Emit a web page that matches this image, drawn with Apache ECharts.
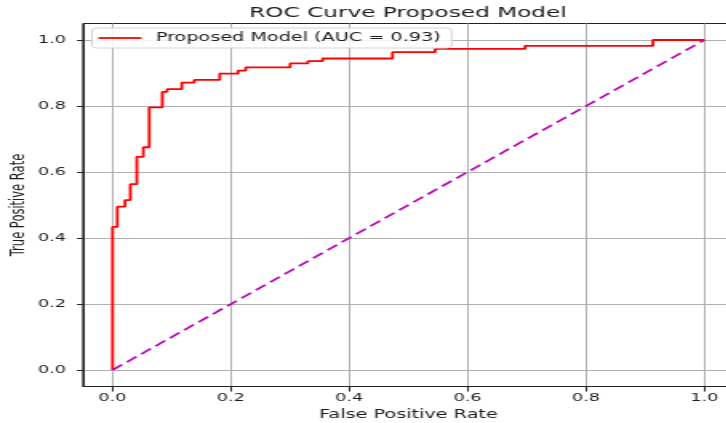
<!DOCTYPE html>
<html>
<head>
<meta charset="utf-8">
<title>ROC Curve Proposed Model</title>
<script src="https://cdn.jsdelivr.net/npm/echarts@6/dist/echarts.min.js"></script>
<style>
  html, body { margin: 0; padding: 0; background: #fff; overflow: hidden; }
  #wrap { width: 726px; height: 423px; overflow: hidden; position: relative; }
  #chart { position: absolute; left: 0; top: 0; height: 423px; transform-origin: 0 0; }
</style>
</head>
<body>
<div id="wrap"><div id="chart"></div></div>
<script>
// ROC curve points (false positive rate / true positive rate)
const fpr = [0, 0, 0.008, 0.008, 0.021, 0.021, 0.030, 0.030, 0.041, 0.041, 0.052, 0.052,
  0.062, 0.062, 0.084, 0.084, 0.092, 0.092, 0.117, 0.117, 0.138, 0.138, 0.181, 0.181,
  0.212, 0.212, 0.225, 0.225, 0.300, 0.300, 0.330, 0.330, 0.355, 0.355, 0.473, 0.473,
  0.545, 0.545, 0.697, 0.697, 0.913, 0.913, 1.0];
const tpr = [0, 0.434, 0.434, 0.495, 0.495, 0.515, 0.515, 0.563, 0.563, 0.646, 0.646, 0.675,
  0.675, 0.796, 0.796, 0.843, 0.843, 0.851, 0.851, 0.871, 0.871, 0.879, 0.879, 0.898,
  0.898, 0.907, 0.907, 0.917, 0.917, 0.929, 0.929, 0.936, 0.936, 0.944, 0.944, 0.963,
  0.963, 0.973, 0.973, 0.982, 0.982, 1.0, 1.0];
// chance line
const chanceX = [0, 1];
const chanceY = [0, 1];
const tickValues = [0, 0.2, 0.4, 0.6, 0.8, 1.0];
const aucValue = 0.93;
const modelName = 'Proposed Model';

// the figure is drawn narrow and widened horizontally
const S = 1.6;
const sx = v => v / S;
const el = document.getElementById('chart');
el.style.width = (726 / S) + 'px';
el.style.transform = 'scaleX(' + S + ')';

const chart = echarts.init(el, null, { renderer: 'canvas' });
const font = 'DejaVu Sans';
const ink = '#1c1c1c';
const legendName = modelName + ' (AUC = ' + aucValue.toFixed(2) + ')';

chart.setOption({
  animation: false,
  backgroundColor: '#fff',
  title: {
    text: 'ROC Curve ' + modelName,
    left: sx(400), top: 1, textAlign: 'center',
    textStyle: { fontFamily: font, fontSize: 14.5, fontWeight: 'normal', color: ink }
  },
  legend: {
    data: [legendName],
    left: sx(92), top: 28,
    padding: [4, sx(11), 4, sx(5)],
    itemWidth: sx(43), itemHeight: 14,
    itemStyle: { opacity: 0 },
    lineStyle: { width: 1.8, color: '#ff0000' },
    backgroundColor: 'rgba(255,255,255,0.85)',
    borderColor: '#d4d4d4', borderWidth: 1, borderRadius: 3,
    textStyle: { fontFamily: font, fontSize: 12, color: ink, padding: [0, 0, 0, 4] }
  },
  grid: {
    left: sx(83), right: sx(-7.6), top: 23.5, bottom: 36.5,
    containLabel: false, outerBoundsMode: 'none',
    show: true, borderColor: '#222', borderWidth: 1, backgroundColor: 'transparent'
  },
  xAxis: {
    type: 'value', min: -0.05, max: 1.05,
    name: 'False Positive Rate', nameLocation: 'middle', nameGap: 22, nameMoveOverlap: false,
    nameTextStyle: { fontFamily: font, fontSize: 12, color: ink },
    axisLine: { show: true, onZero: false, lineStyle: { color: '#222', width: 1 } },
    axisTick: { show: true, length: 5, customValues: tickValues, lineStyle: { color: '#222', width: 1 } },
    axisLabel: { customValues: tickValues, margin: 6, fontFamily: font, fontSize: 11, color: ink,
      formatter: v => v.toFixed(1) },
    splitLine: { show: true, lineStyle: { color: '#b0b0b0', width: 1 } }
  },
  yAxis: {
    type: 'value', min: -0.05, max: 1.05,
    name: 'True Positive Rate', nameLocation: 'middle', nameGap: 34, nameRotate: 90, nameMoveOverlap: false,
    nameTextStyle: { fontFamily: font, fontSize: 11.5, color: ink },
    axisLine: { show: true, onZero: false, lineStyle: { color: '#222', width: 1 } },
    axisTick: { show: true, length: sx(6), customValues: tickValues, lineStyle: { color: '#222', width: 1 } },
    axisLabel: { customValues: tickValues, margin: sx(17), fontFamily: font, fontSize: 11, color: ink,
      formatter: v => v.toFixed(1) },
    splitLine: { show: true, lineStyle: { color: '#b0b0b0', width: 1 } }
  },
  series: [
    {
      name: legendName,
      type: 'line',
      data: fpr.map((x, i) => [x, tpr[i]]),
      symbol: 'none',
      lineStyle: { color: '#ff0000', width: 1.8 },
      itemStyle: { color: '#ff0000' },
      z: 3
    },
    {
      name: 'chance',
      type: 'line',
      data: chanceX.map((x, i) => [x, chanceY[i]]),
      symbol: 'none',
      lineStyle: { color: '#bf00c0', width: 1.7, type: [8, 4] },
      z: 4
    }
  ]
});
</script>
</body>
</html>
